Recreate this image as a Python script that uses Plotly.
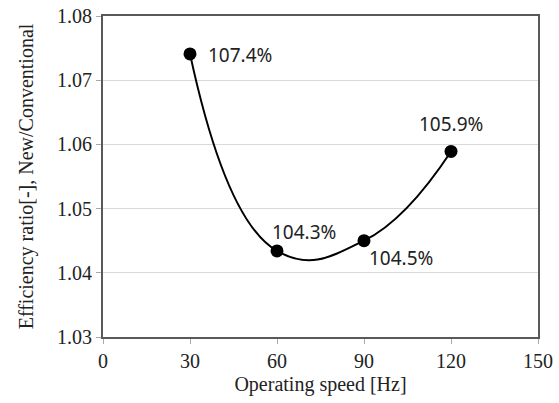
import plotly.graph_objects as go

speed = [30, 60, 90, 120]
ratio = [1.0741, 1.0434, 1.0450, 1.0589]
labels = ["107.4%", "104.3%", "104.5%", "105.9%"]
x_ticks = [0, 30, 60, 90, 120, 150]
y_ticks = [1.03, 1.04, 1.05, 1.06, 1.07, 1.08]

fig = go.Figure()
fig.add_trace(go.Scatter(
    x=speed, y=ratio, mode="lines+markers",
    line=dict(color="black", width=2, shape="spline", smoothing=1.3),
    marker=dict(color="black", size=13),
    showlegend=False,
))

# label offsets (pixels, right / down) relative to each point
offsets = [(50, 1), (27, -19), (37, 17), (0, -27)]
for x, y, t, (ax, ay) in zip(speed, ratio, labels, offsets):
    fig.add_annotation(x=x, y=y, text=t, showarrow=False, xshift=ax, yshift=-ay,
                       font=dict(family="Noto Sans, sans-serif", size=19, color="#222222"))

serif = "Liberation Serif, Times New Roman, serif"
axis_common = dict(
    showline=True, linecolor="#595959", linewidth=2, mirror=True,
    ticks="outside", ticklen=5, tickcolor="#aaaaaa",
    tickfont=dict(family=serif, size=20, color="#222222"),
    zeroline=False, automargin=False,
)

fig.update_xaxes(range=[0, 150], tickvals=x_ticks, showgrid=False,
                 title=dict(text="Operating speed [Hz]", standoff=6,
                            font=dict(family=serif, size=20, color="#222222")),
                 **axis_common)
fig.update_yaxes(range=[1.03, 1.08], tickvals=y_ticks, tickformat=".2f",
                 showgrid=True, gridcolor="#d9d9d9", gridwidth=1,
                 title=dict(text="Efficiency ratio[-], New/Conventional", standoff=18,
                            font=dict(family=serif, size=20, color="#222222")),
                 **axis_common)

fig.update_layout(
    width=559, height=403,
    margin=dict(l=103, r=21, t=16, b=66),
    plot_bgcolor="white", paper_bgcolor="white",
)

fig.write_html("out.html")
